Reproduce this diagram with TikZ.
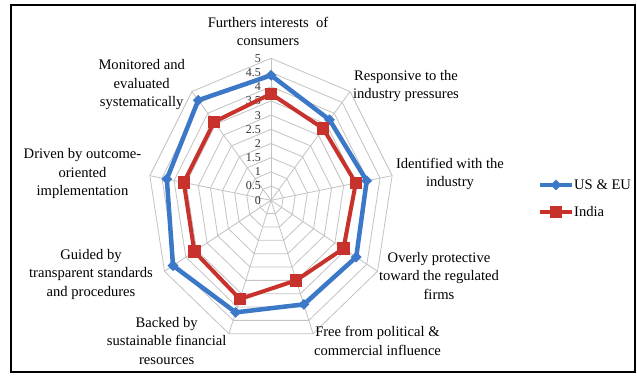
\documentclass[tikz,border=0pt]{standalone}
\usepackage{fontspec}
\setmainfont{Liberation Serif}
\usetikzlibrary{shapes.geometric}
\definecolor{seriesblue}{RGB}{60,120,200}
\definecolor{seriesred}{RGB}{200,50,45}
\definecolor{gridgray}{RGB}{195,195,195}
\tikzset{
  gridline/.style={draw=gridgray, line width=0.8pt},
  catlabel/.style={align=center, inner sep=0pt, font=\fontsize{14.6}{18.5}\selectfont},
  ticklabel/.style={anchor=east, inner sep=0pt, font=\fontsize{12}{12}\selectfont, text=black!80},
  legendtext/.style={anchor=west, inner sep=0pt, font=\fontsize{14.6}{18}\selectfont},
  blueline/.style={draw=seriesblue, line width=4.5pt, line join=round},
  redline/.style={draw=seriesred, line width=4pt, line join=round},
  bluemark/.style={diamond, fill=seriesblue, minimum width=11pt, minimum height=11pt, inner sep=0pt},
  redmark/.style={rectangle, fill=seriesred, minimum size=12.5pt, inner sep=0pt},
}
\begin{document}
\begin{tikzpicture}[x=1pt,y=1pt]
\useasboundingbox (0,0) rectangle (637,379);
\fill[white] (0,0) rectangle (637,379);
\draw[line width=1.6pt] (11,7) rectangle (635,374);
\begin{scope}[shift={(271pt,178.7pt)}, x=24.6pt, y=28.4pt]
  \coordinate (O) at (0,0);
  \foreach \r in {0.5,1,1.5,2,2.5,3,3.5,4,4.5,5}
    \draw[gridline] (90:\r) -- (50:\r) -- (10:\r) -- (-30:\r) -- (-70:\r) -- (-110:\r) -- (-150:\r) -- (170:\r) -- (130:\r) -- cycle;
  \foreach \a in {90,50,10,-30,-70,-110,-150,170,130}
    \draw[gridline] (O) -- (\a:5);
  \foreach \v [count=\i] in {0,0.5,1,1.5,2,2.5,3,3.5,4,4.5,5}
    \node[ticklabel] (tick\i) at ([xshift=-10pt]0,\v) {\v};
  \foreach \a/\v [count=\i] in {90/4.4,50/3.7,10/3.95,-30/4.0,-70/3.9,-110/4.2,-150/4.6,170/4.3,130/4.6}
    \coordinate (b\i) at (\a:\v);
  \foreach \a/\v [count=\i] in {90/3.75,50/3.3,10/3.5,-30/3.4,-70/3.0,-110/3.7,-150/3.6,170/3.6,130/3.6}
    \coordinate (r\i) at (\a:\v);
\end{scope}
\draw[blueline] (b1) -- (b2) -- (b3) -- (b4) -- (b5) -- (b6) -- (b7) -- (b8) -- (b9) -- cycle;
\foreach \i in {1,...,9} \node[bluemark] (bm\i) at (b\i) {};
\draw[redline] (r1) -- (r2) -- (r3) -- (r4) -- (r5) -- (r6) -- (r7) -- (r8) -- (r9) -- cycle;
\foreach \i in {1,...,9} \node[redmark] (rm\i) at (r\i) {};
% category labels
\node[catlabel] (c0) at (268,347.5) {Furthers interests\ \ of\\consumers};
\node[catlabel] (c1) at (406,293) {Responsive to the\\industry pressures};
\node[catlabel] (c2) at (450,205) {Identified with the\\industry};
\node[catlabel] (c3) at (439,103) {Overly protective\\toward the regulated\\firms};
\node[catlabel] (c4) at (377.5,38) {Free from political \&\\commercial influence};
\node[catlabel] (c5) at (166.7,38) {Backed by\\sustainable financial\\resources};
\node[catlabel] (c6) at (91,105) {Guided by\\transparent standards\\and procedures};
\node[catlabel] (c7) at (82.5,205.3) {Driven by outcome-\\oriented\\implementation};
\node[catlabel] (c8) at (141.7,294) {Monitored and\\evaluated\\systematically};
% legend
\coordinate (lbA) at (540,194); \coordinate (lbB) at (572,194);
\draw[blueline, line width=4pt] (lbA) -- (lbB);
\node[bluemark] (lbm) at (556,194) {};
\node[legendtext] (lbt) at (574,194) {US \& EU};
\coordinate (lrA) at (540,167); \coordinate (lrB) at (572,167);
\draw[redline] (lrA) -- (lrB);
\node[redmark] (lrm) at (556,167) {};
\node[legendtext] (lrt) at (574,167) {India};
\end{tikzpicture}
\end{document}
